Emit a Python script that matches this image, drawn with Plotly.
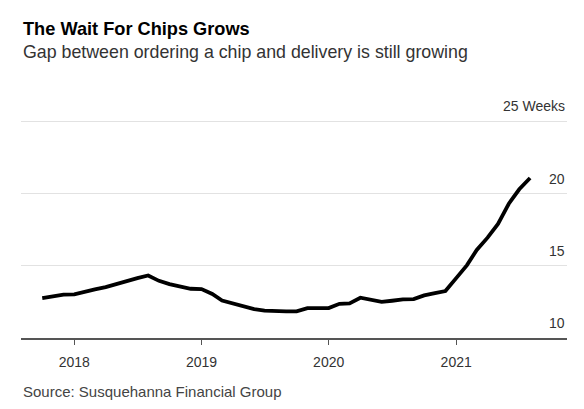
import pandas as pd
import plotly.graph_objects as go

# ---- data ----
months = pd.date_range("2017-10-01", "2021-08-01", freq="MS")
lead_time_weeks = [
    12.77, 12.86, 13.00,
    13.02, 13.22, 13.37, 13.52, 13.75, 13.92, 14.15, 14.33, 13.96, 13.73, 13.57, 13.41,
    13.39, 13.05, 12.60, 12.42, 12.18, 12.00, 11.90, 11.84, 11.84, 11.84, 12.07, 12.07,
    12.07, 12.37, 12.40, 12.79, 12.65, 12.50, 12.58, 12.67, 12.69, 12.95, 13.11, 13.25,
    14.15, 15.05, 16.10, 16.95, 17.90, 19.30, 20.30, 21.08,
]
y_ticks = [10, 15, 20, 25]
y_tick_labels = ["10", "15", "20", "25 Weeks"]

title = "The Wait For Chips Grows"
subtitle = "Gap between ordering a chip and delivery is still growing"
source = "Source: Susquehanna Financial Group"

# ---- layout geometry (pixels) ----
W, H = 584, 409
Y_TOP = 25.1                      # a touch above 25 so the 25 gridline is drawn
PX_PER_WEEK = (338.3 - 121.5) / 15
L, R, B = 20.7, 17.3, 409 - 338.3
T = 121.5 - (Y_TOP - 25) * PX_PER_WEEK
plot_h = H - T - B
FONT = "Liberation Sans, Arial, Helvetica, sans-serif"


def py(pixel_y):
    """convert a pixel y (from top) to paper coordinate"""
    return (H - B - pixel_y) / plot_h


fig = go.Figure()
fig.add_trace(go.Scatter(
    x=months, y=lead_time_weeks, mode="lines",
    line=dict(color="#000000", width=3.8),
    hoverinfo="skip", showlegend=False,
))

annotations = []
for v, lab in zip(y_ticks, y_tick_labels):
    annotations.append(dict(
        x=1, xref="paper", xanchor="right", y=v, yref="y", yanchor="middle",
        yshift=15, text=lab, showarrow=False,
        font=dict(family=FONT, size=14, color="#333333"),
    ))

annotations += [
    dict(x=0, xref="paper", xanchor="left", y=py(29), yref="paper", yanchor="middle",
         text="<b>" + title + "</b>", showarrow=False,
         font=dict(family=FONT, size=18.2, color="#000000")),
    dict(x=0, xref="paper", xanchor="left", y=py(51.5), yref="paper", yanchor="middle",
         text=subtitle, showarrow=False,
         font=dict(family=FONT, size=17.8, color="#333333")),
    dict(x=0, xref="paper", xanchor="left", y=py(392), yref="paper", yanchor="middle",
         text=source, showarrow=False,
         font=dict(family=FONT, size=15, color="#444444")),
]

fig.update_layout(
    width=W, height=H,
    margin=dict(l=L, r=R, t=T, b=B, pad=0),
    paper_bgcolor="white", plot_bgcolor="white",
    font=dict(family=FONT, color="#333333"),
    annotations=annotations,
    xaxis=dict(
        range=["2017-08-01", "2021-11-15"],
        tick0="2018-01-01", dtick="M12", tickformat="%Y",
        ticks="outside", ticklen=5, tickwidth=1.2, tickcolor="#555555",
        showline=True, linecolor="#555555", linewidth=1.5,
        showgrid=False, zeroline=False, ticklabelstandoff=6,
        tickfont=dict(family=FONT, size=14, color="#333333"),
    ),
    yaxis=dict(
        range=[10, Y_TOP], tickvals=y_ticks, showticklabels=False,
        showgrid=True, gridcolor="#e2e2e2", gridwidth=1,
        zeroline=False, showline=False, ticks="",
    ),
)

fig.write_html(
    "out.html",
    config={"displayModeBar": False, "staticPlot": True},
    post_script="document.body.style.margin='0';document.body.style.overflow='hidden';",
)
